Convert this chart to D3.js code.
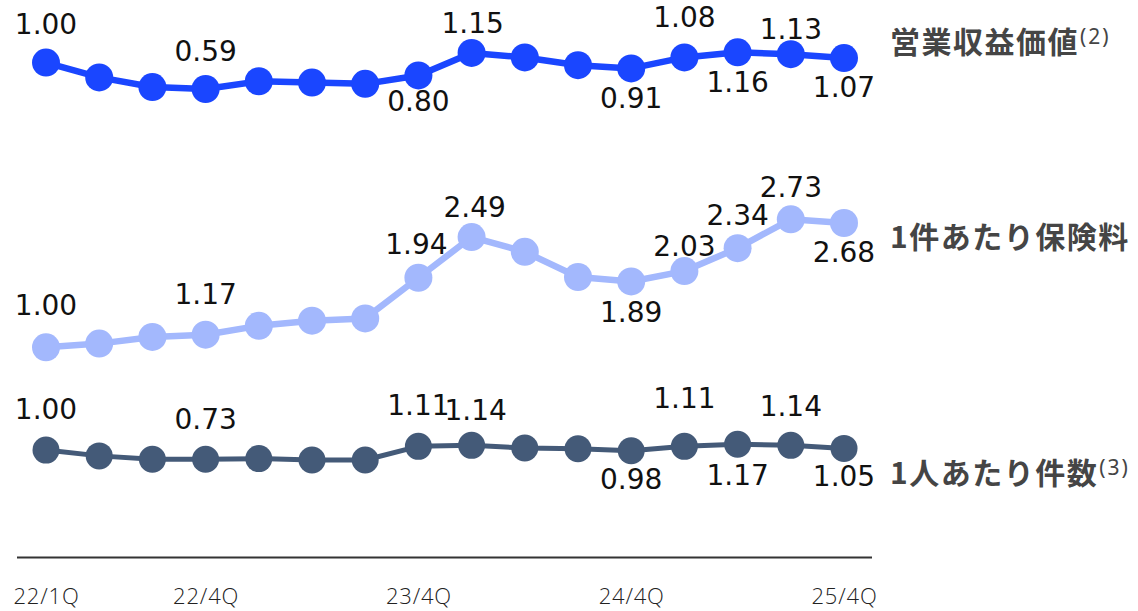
<!DOCTYPE html>
<html>
<head>
<meta charset="utf-8">
<script src="https://cdn.jsdelivr.net/npm/d3@7"></script>
<style>
  html, body { margin: 0; padding: 0; background: #fff; }
  svg { display: block; }
</style>
</head>
<body>
<svg id="chart" width="1138" height="611"></svg>
<script>
// Quarters on the shared time axis
const quarters = ["22/1Q","22/2Q","22/3Q","22/4Q","23/1Q","23/2Q","23/3Q","23/4Q",
                  "24/1Q","24/2Q","24/3Q","24/4Q","25/1Q","25/2Q","25/3Q","25/4Q"];
const tickQuarters = ["22/1Q","22/4Q","23/4Q","24/4Q","25/4Q"];

// Indexed values (22/1Q = 1.00)
const revenueValue = [1.00, 0.77, 0.62, 0.59, 0.71, 0.69, 0.67, 0.80, 1.15, 1.08, 0.96, 0.91, 1.08, 1.16, 1.13, 1.07];
const premiumPerPolicy = [1.00, 1.05, 1.14, 1.17, 1.29, 1.36, 1.39, 1.94, 2.49, 2.29, 1.95, 1.89, 2.03, 2.34, 2.73, 2.68];
const policiesPerPerson = [1.00, 0.83, 0.73, 0.73, 0.75, 0.71, 0.71, 1.11, 1.14, 1.06, 1.04, 0.98, 1.11, 1.17, 1.14, 1.05];

// Series names
const seriesNames = ["営業収益価値", "1件あたり保険料", "1人あたり件数"];
const seriesNotes = ["(2)", "", "(3)"];

// Quarters whose value is printed
const labelledIdx = [0, 3, 7, 8, 11, 12, 13, 14, 15];

// Label baseline offsets from each marker (negative = above)
const labelDy = [
  [-29, -28, 36, -20, 40, -30, 40, -15, 39],
  [-32, -31, -24, -20, 41, -15, -23, -22, 39],
  [-31, -30, -31, -25, 38, -38, 41, -29, 38]
];
const labelDx = [
  [0, 0, 0, 1, 0, 0, 0, 0, 0],
  [0, 0, -2, 3, 0, 0, 0, 0, 0],
  [0, 0, 0, 4, 0, 0, 0, 0, 0]
];

const svg = d3.select("#chart");

const x = d3.scalePoint().domain(quarters).range([46, 844]).padding(0);

// Each series sits in its own band with its own vertical scale
const bands = [
  { values: revenueValue,      color: "#1a46ff", width: 6.5, r: 14,
    y: d3.scaleLinear().domain([0.5, 1.2]).range([94.8, 49.7]),   nameY: 53 },
  { values: premiumPerPolicy,  color: "#a3b8fd", width: 6.5, r: 14,
    y: d3.scaleLinear().domain([1, 2.8]).range([347.3, 214.1]),   nameY: 248 },
  { values: policiesPerPerson, color: "#445a78", width: 5, r: 13.5,
    y: d3.scaleLinear().domain([0.7, 1.2]).range([460.3, 443.3]), nameY: 484 }
];

bands.forEach((b, si) => {
  const g = svg.append("g");
  const line = d3.line()
    .x((d, i) => x(quarters[i]))
    .y(d => b.y(d));

  g.append("path")
    .datum(b.values)
    .attr("d", line)
    .attr("fill", "none")
    .attr("stroke", b.color)
    .attr("stroke-width", b.width)
    .attr("stroke-linejoin", "round");

  g.selectAll("circle")
    .data(b.values)
    .join("circle")
    .attr("cx", (d, i) => x(quarters[i]))
    .attr("cy", d => b.y(d))
    .attr("r", b.r)
    .attr("fill", b.color);

  g.selectAll("text.val")
    .data(labelledIdx)
    .join("text")
    .attr("class", "val")
    .attr("x", (idx, k) => x(quarters[idx]) + labelDx[si][k])
    .attr("y", (idx, k) => b.y(b.values[idx]) + labelDy[si][k])
    .attr("text-anchor", "middle")
    .attr("font-family", "'DejaVu Sans', sans-serif")
    .attr("font-size", 28)
    .attr("fill", "#111")
    .text(idx => b.values[idx].toFixed(2));

  // Series name to the right of the last marker
  const name = svg.append("text")
    .attr("x", 890)
    .attr("y", b.nameY)
    .attr("font-family", "'Noto Sans CJK JP', sans-serif")
    .attr("font-weight", "bold")
    .attr("font-size", 30)
    .attr("letter-spacing", 1.5)
    .attr("fill", "#454545");
  name.append("tspan").text(seriesNames[si]);
  if (seriesNotes[si]) {
    name.append("tspan")
      .attr("font-family", "'Noto Sans', sans-serif")
      .attr("font-size", 21)
      .attr("font-weight", "normal")
      .attr("letter-spacing", 2)
      .attr("dx", 1)
      .attr("dy", -9)
      .text(seriesNotes[si]);
  }
});

// Baseline
svg.append("line")
  .attr("x1", 17).attr("x2", 872)
  .attr("y1", 557.5).attr("y2", 557.5)
  .attr("stroke", "#333")
  .attr("stroke-width", 2);

// Quarter ticks
const axis = d3.axisBottom(x).tickValues(tickQuarters).tickSize(0).tickPadding(0);
const ax = svg.append("g").attr("transform", "translate(0,604)").call(axis);
ax.select(".domain").remove();
ax.attr("font-family", null).attr("font-size", null);
ax.selectAll("text")
  .attr("dy", 0)
  .attr("y", 0)
  .attr("font-family", "'Open Sans', sans-serif")
  .attr("font-weight", 300)
  .attr("font-size", 22)
  .attr("letter-spacing", 0.8)
  .attr("fill", "#222");
</script>
</body>
</html>
